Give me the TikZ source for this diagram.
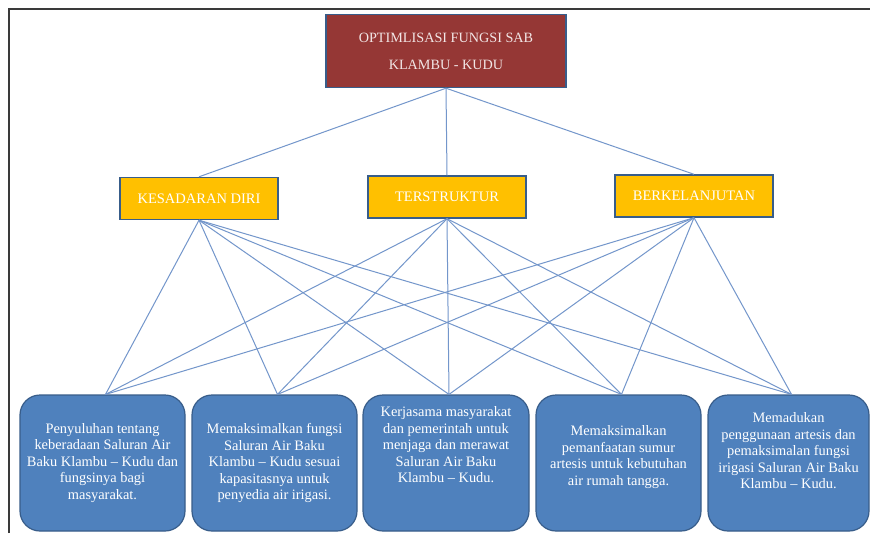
\documentclass[tikz,border=0pt]{standalone}
\usepackage{fontspec}
\setmainfont{Liberation Serif}
\definecolor{topred}{HTML}{953735}
\definecolor{midgold}{HTML}{FFC000}
\definecolor{botblue}{HTML}{4F81BD}
\definecolor{edgeblue}{HTML}{385D8A}
\definecolor{linkblue}{HTML}{7396CB}
\definecolor{framegray}{HTML}{3A3A3A}
\definecolor{toptext}{HTML}{F2E6E6}
\begin{document}
\begin{tikzpicture}[x=1pt,y=-1pt,
  topbox/.style={draw=edgeblue, line width=1.4pt, fill=topred, minimum width=240pt, minimum height=73pt,
    inner sep=0pt, text=toptext, align=center, font=\fontsize{14.2}{27}\selectfont},
  midbox/.style={draw=edgeblue, line width=1.4pt, fill=midgold, minimum width=158pt, minimum height=42pt,
    inner sep=0pt, text=white, font=\fontsize{14.5}{16}\selectfont},
  botbox/.style={draw=edgeblue, line width=1.2pt, fill=botblue, minimum height=136pt,
    inner sep=0pt, rounded corners=20pt},
  bottext/.style={text=white, align=center, inner sep=0pt, font=\fontsize{14.4}{16.5}\selectfont},
  link/.style={draw=linkblue, line width=1pt},
  frameline/.style={draw=framegray, line width=1.5pt}
]
\useasboundingbox (0,0) rectangle (870,533);
\fill[white] (0,0) rectangle (870,533);
\draw[frameline] (9,533) -- (9,9) -- (870,9);

% top
\node[topbox] (top) at (446,51) {OPTIMLISASI FUNGSI SAB\\KLAMBU - KUDU};

% middle
\node[midbox] (m1) at (199,198.5) {KESADARAN DIRI};
\node[midbox] (m2) at (447,197) {TERSTRUKTUR};
\node[midbox] (m3) at (694,196) {BERKELANJUTAN};

% bottom boxes
\node[botbox, minimum width=165pt] (b1) at (102.5,463) {};
\node[botbox, minimum width=165pt] (b2) at (274.5,463) {};
\node[botbox, minimum width=166pt] (b3) at (446,463) {};
\node[botbox, minimum width=165pt] (b4) at (618.5,463) {};
\node[botbox, minimum width=161pt] (b5) at (788.5,463) {};

\node[bottext] (t1) at (102.5,463) {Penyuluhan tentang\\keberadaan Saluran Air\\Baku Klambu -- Kudu dan\\fungsinya bagi\\masyarakat.};
\node[bottext] (t2) at (274.5,463) {Memaksimalkan fungsi\\Saluran Air Baku\\Klambu -- Kudu sesuai\\kapasitasnya untuk\\penyedia air irigasi.};
\node[bottext] (t3) at (446,445) {Kerjasama masyarakat\\dan pemerintah untuk\\menjaga dan merawat\\Saluran Air Baku\\Klambu -- Kudu.};
\node[bottext] (t4) at (618.5,457) {Memaksimalkan\\pemanfaatan sumur\\artesis untuk kebutuhan\\air rumah tangga.};
\node[bottext] (t5) at (788.5,451) {Memadukan\\penggunaan artesis dan\\pemaksimalan fungsi\\irigasi Saluran Air Baku\\Klambu -- Kudu.};

% connectors
\foreach \m in {m1,m2,m3} {
  \draw[link] (top.south) -- (\m.north);
}
\foreach \m in {m1,m2,m3} {
  \foreach \b in {b1,b2,b3,b4,b5} {
    \draw[link] (\m.south) -- ([xshift=3pt]\b.north);
  }
}
\end{tikzpicture}
\end{document}
